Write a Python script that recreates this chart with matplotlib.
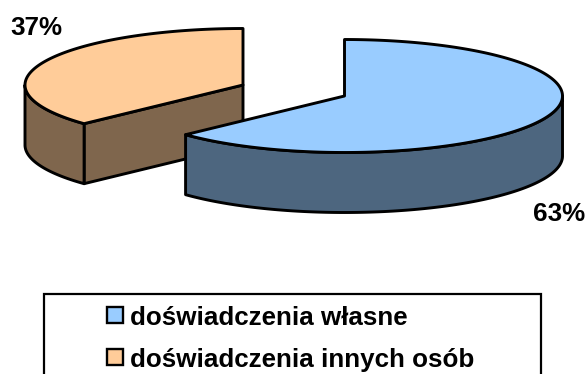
import matplotlib
matplotlib.use("Agg")
import matplotlib.pyplot as plt
from matplotlib.patches import Polygon, Rectangle
import numpy as np

labels = ["doświadczenia własne", "doświadczenia innych osób"]
values = [63, 37]
value_labels = ["63%", "37%"]
top_colors = ["#99CCFF", "#FFCC99"]
side_colors = ["#4D667F", "#7F664D"]

plt.rcParams["font.family"] = ["Liberation Sans", "DejaVu Sans"]

# everything is laid out in pixels of the 586x374 image
rx = 218
ry = 56.5
depth = 60
centers = [(344.5, 96), (243, 85)]
line_w = 2.1
font_size = 18.7

fig = plt.figure(figsize=(5.86, 3.74), dpi=100)
ax = fig.add_axes([0, 0, 1, 1])
ax.set_xlim(0, 586)
ax.set_ylim(374, 0)
ax.axis("off")


def rim(cx, cy, a0, a1):
    # angles in degrees, clockwise from 12 o'clock
    a = np.radians(np.linspace(a0, a1, 200))
    return np.column_stack([cx + rx * np.sin(a), cy - ry * np.cos(a)])


def add_poly(pts, color, z):
    ax.add_patch(Polygon(pts, closed=True, facecolor=color, edgecolor="k",
                         linewidth=line_w, joinstyle="round", zorder=z))


shift = np.array([0, depth])
fractions = np.array(values) / sum(values) * 360
starts = [0, fractions[0]]

# second slice first, the first one sits in front of it
for i in [1, 0]:
    cx, cy = centers[i]
    a0 = starts[i]
    a1 = a0 + fractions[i]
    z = 2 if i == 1 else 3
    apex = np.array([cx, cy])
    edge = rim(cx, cy, a0, a1)

    if i == 1:
        # flat cut face running from the rim to the centre
        cut = np.array([edge[0], apex, apex + shift, edge[0] + shift])
        add_poly(cut, side_colors[i], z)
    # outer wall, only the part facing the viewer (90-270 deg)
    w0 = max(a0, 90)
    w1 = min(a1, 270)
    wall = rim(cx, cy, w0, w1)
    add_poly(np.vstack([wall, (wall + shift)[::-1]]), side_colors[i], z)
    add_poly(np.vstack([apex, edge]), top_colors[i], z)

ax.text(533, 221, value_labels[0], fontsize=font_size, fontweight="bold", ha="left", va="baseline")
ax.text(10, 35, value_labels[1], fontsize=font_size, fontweight="bold", ha="left", va="baseline")

# legend box runs off the bottom of the image
ax.add_patch(Rectangle((44, 293.5), 497, 100, facecolor="white", edgecolor="k", linewidth=1.6))
legend_y = [306.5, 348.5]
for i in range(len(labels)):
    ax.add_patch(Rectangle((106.5, legend_y[i]), 16, 16.5, facecolor=top_colors[i],
                           edgecolor="k", linewidth=1.7, zorder=3))
    ax.text(130.5, legend_y[i] + 18.5, labels[i], fontsize=font_size, fontweight="bold",
            ha="left", va="baseline", zorder=3)

fig.savefig("out.png", dpi=100)
